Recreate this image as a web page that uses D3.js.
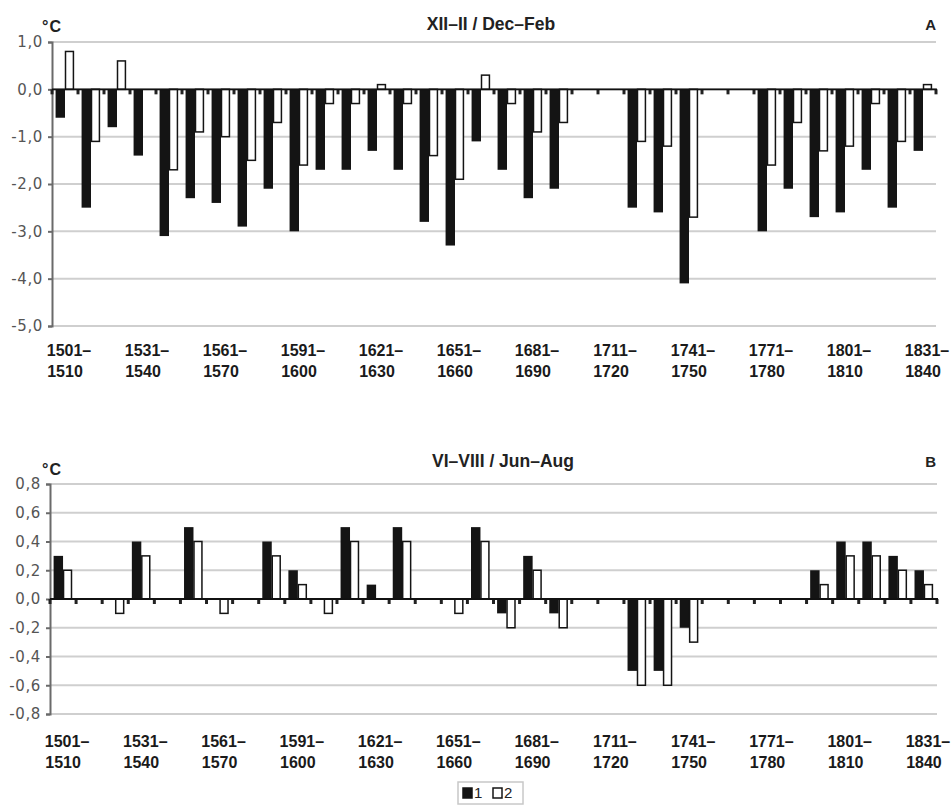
<!DOCTYPE html>
<html>
<head>
<meta charset="utf-8">
<script src="https://cdn.jsdelivr.net/npm/d3@7"></script>
<style>
  body { margin: 0; background: #fff; }
  svg { display: block; }
</style>
</head>
<body>
<svg id="chart" width="951" height="805"></svg>
<script>
// decades on the x axis
const decades = [
  "1501–1510", "1511–1520", "1521–1530", "1531–1540", "1541–1550", "1551–1560",
  "1561–1570", "1571–1580", "1581–1590", "1591–1600", "1601–1610", "1611–1620",
  "1621–1630", "1631–1640", "1641–1650", "1651–1660", "1661–1670", "1671–1680",
  "1681–1690", "1691–1700", "1701–1710", "1711–1720", "1721–1730", "1731–1740",
  "1741–1750", "1751–1760", "1761–1770", "1771–1780", "1781–1790", "1791–1800",
  "1801–1810", "1811–1820", "1821–1830", "1831–1840"
];
// labelled decades (every third)
const shownDecades = [
  "1501–1510", "1531–1540", "1561–1570", "1591–1600", "1621–1630", "1651–1660",
  "1681–1690", "1711–1720", "1741–1750", "1771–1780", "1801–1810", "1831–1840"
];

// A: XII-II / Dec-Feb
const winter1 = [-0.6, -2.5, -0.8, -1.4, -3.1, -2.3, -2.4, -2.9, -2.1, -3.0, -1.7, -1.7,
  -1.3, -1.7, -2.8, -3.3, -1.1, -1.7, -2.3, -2.1, null, null, -2.5, -2.6,
  -4.1, null, null, -3.0, -2.1, -2.7, -2.6, -1.7, -2.5, -1.3];
const winter2 = [0.8, -1.1, 0.6, null, -1.7, -0.9, -1.0, -1.5, -0.7, -1.6, -0.3, -0.3,
  0.1, -0.3, -1.4, -1.9, 0.3, -0.3, -0.9, -0.7, null, null, -1.1, -1.2,
  -2.7, null, null, -1.6, -0.7, -1.3, -1.2, -0.3, -1.1, 0.1];
const winterTicks = [1, 0, -1, -2, -3, -4, -5];

// B: VI-VIII / Jun-Aug
const summer1 = [0.3, null, null, 0.4, null, 0.5, null, null, 0.4, 0.2, null, 0.5,
  0.1, 0.5, null, null, 0.5, -0.1, 0.3, -0.1, null, null, -0.5, -0.5,
  -0.2, null, null, null, null, 0.2, 0.4, 0.4, 0.3, 0.2];
const summer2 = [0.2, null, -0.1, 0.3, null, 0.4, -0.1, null, 0.3, 0.1, -0.1, 0.4,
  null, 0.4, null, -0.1, 0.4, -0.2, 0.2, -0.2, null, null, -0.6, -0.6,
  -0.3, null, null, null, null, 0.1, 0.3, 0.3, 0.2, 0.1];
const summerTicks = [0.8, 0.6, 0.4, 0.2, 0, -0.2, -0.4, -0.6, -0.8];

const seriesNames = ["1", "2"];

const svg = d3.select("#chart");
const fmt = v => d3.format(".1f")(v).replace(".", ",").replace("−", "-");

function drawPanel(opt) {
  const g = svg.append("g");

  const x = d3.scaleBand().domain(decades).range([opt.left, opt.right]).padding(0);
  const xs = d3.scaleBand().domain(seriesNames).range([0, x.bandwidth()])
    .paddingOuter(0.38).paddingInner(0);
  const y = d3.scaleLinear().domain(opt.domain).range([opt.bottom, opt.top]);

  // gridlines
  g.selectAll(".grid").data(opt.ticks).enter().append("line")
    .attr("x1", opt.left).attr("x2", opt.right)
    .attr("y1", d => y(d)).attr("y2", d => y(d))
    .attr("stroke", "#cfcfcf").attr("stroke-width", 2);

  // y axis
  const yAxis = d3.axisLeft(y).tickValues(opt.ticks).tickSize(4).tickPadding(5).tickFormat(fmt);
  const ya = g.append("g").attr("transform", `translate(${opt.left},0)`).call(yAxis);
  ya.select(".domain").attr("stroke", "#6a6a6a").attr("stroke-width", 2);
  ya.selectAll(".tick line").attr("stroke", "#6a6a6a").attr("stroke-width", 2);
  ya.selectAll(".tick text")
    .attr("font-family", "DejaVu Sans, sans-serif").attr("font-size", 15)
    .attr("letter-spacing", "0.6px").attr("fill", "#555");

  // category boundary ticks under the zero line
  const bounds = decades.map(d => x(d)).concat([opt.right]);
  g.selectAll(".ctick").data(bounds).enter().append("line")
    .attr("x1", d => d).attr("x2", d => d)
    .attr("y1", y(0)).attr("y2", y(0) + 5)
    .attr("stroke", "#222").attr("stroke-width", 3);

  // bars
  const rows = decades.map((d, i) => ({ decade: d, vals: [opt.s1[i], opt.s2[i]] }));
  const grp = g.selectAll(".dec").data(rows).enter().append("g")
    .attr("transform", d => `translate(${x(d.decade)},0)`);
  grp.selectAll("rect")
    .data(d => d.vals.map((v, k) => ({ key: seriesNames[k], value: v })).filter(e => e.value !== null))
    .enter().append("rect")
    .attr("x", d => xs(d.key) + (d.key === "2" ? 0.5 : 0))
    .attr("width", d => xs.bandwidth() - (d.key === "2" ? 1.5 : 0))
    .attr("y", d => y(Math.max(0, d.value)))
    .attr("height", d => Math.abs(y(d.value) - y(0)))
    .attr("fill", d => d.key === "1" ? "#141414" : "#fff")
    .attr("stroke", d => d.key === "1" ? "none" : "#141414")
    .attr("stroke-width", 1.5);

  // zero line
  g.append("line")
    .attr("x1", opt.left).attr("x2", opt.right + 1)
    .attr("y1", y(0)).attr("y2", y(0))
    .attr("stroke", "#111").attr("stroke-width", 1.8);

  // x labels
  const lab = g.selectAll(".xl").data(shownDecades).enter().append("text")
    .attr("text-anchor", "middle")
    .attr("font-family", "Liberation Sans, Arial, sans-serif")
    .attr("font-size", 16).attr("font-weight", "bold").attr("fill", "#1a1a1a");
  lab.append("tspan")
    .attr("x", d => x(d) + x.bandwidth() / 2 + 4).attr("y", opt.labelY)
    .text(d => d.split("–")[0] + "–");
  lab.append("tspan")
    .attr("x", d => x(d) + x.bandwidth() / 2).attr("y", opt.labelY + 21)
    .text(d => d.split("–")[1]);

  // unit, title, panel letter
  g.append("text").attr("x", 42).attr("y", opt.unitY)
    .attr("font-family", "Liberation Sans, Arial, sans-serif").attr("font-size", 16)
    .attr("font-weight", "bold").attr("letter-spacing", "1px").attr("fill", "#222").text("°C");
  g.append("text").attr("x", opt.titleX).attr("y", opt.titleY).attr("text-anchor", "middle")
    .attr("font-family", "Liberation Sans, Arial, sans-serif").attr("font-size", 17.5)
    .attr("font-weight", "bold").attr("fill", "#222").text(opt.title);
  g.append("text").attr("x", 936).attr("y", opt.titleY).attr("text-anchor", "end")
    .attr("font-family", "Liberation Sans, Arial, sans-serif").attr("font-size", 15)
    .attr("font-weight", "bold").attr("fill", "#222").text(opt.letter);
}

drawPanel({
  s1: winter1, s2: winter2, ticks: winterTicks, domain: [-5, 1],
  left: 52, right: 936, top: 42, bottom: 326,
  labelY: 356, unitY: 32, titleX: 491, titleY: 30,
  title: "XII–II / Dec–Feb", letter: "A"
});

drawPanel({
  s1: summer1, s2: summer2, ticks: summerTicks, domain: [-0.8, 0.8],
  left: 50, right: 937, top: 484, bottom: 714,
  labelY: 747, unitY: 475, titleX: 503, titleY: 467,
  title: "VI–VIII / Jun–Aug", letter: "B"
});

// legend
const leg = svg.append("g").attr("transform", "translate(458,782)");
leg.append("rect").attr("width", 65).attr("height", 22)
  .attr("fill", "#fff").attr("stroke", "#c8c8c8").attr("stroke-width", 1.5);
const legItems = leg.selectAll(".li").data(seriesNames).enter().append("g")
  .attr("transform", (d, i) => `translate(${5 + i * 30},6)`);
legItems.append("rect").attr("width", 9).attr("height", 10)
  .attr("fill", d => d === "1" ? "#141414" : "#fff")
  .attr("stroke", "#141414").attr("stroke-width", 1.5);
legItems.append("text").attr("x", 11).attr("y", 10)
  .attr("font-family", "Liberation Sans, Arial, sans-serif").attr("font-size", 15)
  .attr("fill", "#222").text(d => d);
</script>
</body>
</html>
